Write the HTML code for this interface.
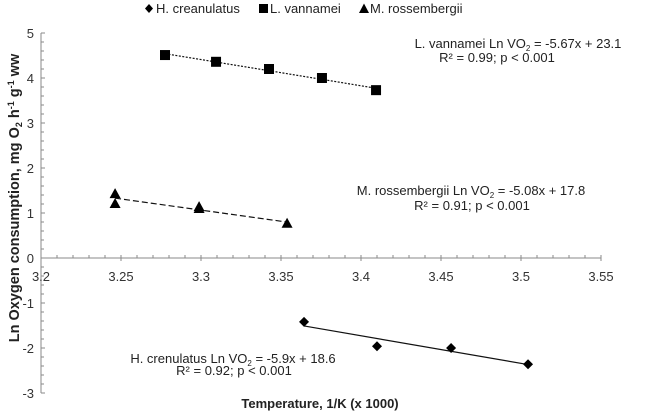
<!DOCTYPE html>
<html><head><meta charset="utf-8"><style>
html,body{margin:0;padding:0;background:#fff}
svg{display:block;font-family:"Liberation Sans",Arial,sans-serif}
</style></head><body>
<svg id="chart" width="646" height="414" viewBox="0 0 646 414" xmlns="http://www.w3.org/2000/svg">
<g id="axes"></g>
<g id="series"></g>
<g font-size="13" fill="#222">
  <path d="M149,4 L153,8.5 L149,13 L145,8.5Z" fill="#000"/>
  <text x="156" y="13">H. creanulatus</text>
  <rect x="259" y="4" width="9" height="9" fill="#000"/>
  <text x="270" y="13">L. vannamei</text>
  <path d="M364,3.5 L369,13 L359,13Z" fill="#000"/>
  <text x="370" y="13">M. rossembergii</text>
</g>
<g font-size="13" fill="#222" text-anchor="middle">
  <text x="518" y="48">L. vannamei  Ln VO<tspan font-size="8" dy="3">2</tspan><tspan dy="-3"> = -5.67x + 23.1</tspan></text>
  <text x="497" y="62">R² = 0.99; p &lt; 0.001</text>
  <text x="471" y="195">M. rossembergii Ln  VO<tspan font-size="8" dy="3">2</tspan><tspan dy="-3"> = -5.08x + 17.8</tspan></text>
  <text x="472" y="210">R² = 0.91; p &lt; 0.001</text>
  <text x="233" y="363">H. crenulatus  Ln VO<tspan font-size="8" dy="3">2</tspan><tspan dy="-3"> = -5.9x + 18.6</tspan></text>
  <text x="234" y="375">R² = 0.92; p &lt; 0.001</text>
</g>
<text x="320" y="408" font-size="13" font-weight="bold" fill="#222" text-anchor="middle">Temperature, 1/K (x 1000)</text>
<text transform="translate(19,198) rotate(-90)" font-size="14.5" font-weight="bold" fill="#222" text-anchor="middle">Ln Oxygen consumption, mg O<tspan font-size="9" dy="3">2</tspan><tspan dy="-3"> h</tspan><tspan font-size="9" dy="-5">-1</tspan><tspan dy="5"> g</tspan><tspan font-size="9" dy="-5">-1</tspan><tspan dy="5"> ww</tspan></text>
</svg>
<script>
const xTicks = [3.2, 3.25, 3.3, 3.35, 3.4, 3.45, 3.5, 3.55];
const xTickLabels = ["3.2", "3.25", "3.3", "3.35", "3.4", "3.45", "3.5", "3.55"];
const yTicks = [-3, -2, -1, 0, 1, 2, 3, 4, 5];
const yTickLabels = ["-3", "-2", "-1", "0", "1", "2", "3", "4", "5"];
const hcX = [3.3644, 3.4100, 3.4563, 3.5044];
const hcY = [-1.42, -1.96, -2.00, -2.36];
const lvX = [3.2775, 3.3094, 3.3425, 3.3756, 3.4094];
const lvY = [4.51, 4.36, 4.20, 4.00, 3.73];
const mrX = [3.2463, 3.2463, 3.2988, 3.2988, 3.3538];
const mrY = [1.42, 1.20, 1.13, 1.09, 0.76];

const NS = "http://www.w3.org/2000/svg";
const X0 = 41, XPX = 1600, Y0 = 258, YPX = 45;
function sx(v){ return X0 + (v - 3.2) * XPX; }
function sy(v){ return Y0 - v * YPX; }
function mk(tag, attrs, parent){
  const e = document.createElementNS(NS, tag);
  for (const k in attrs) e.setAttribute(k, attrs[k]);
  parent.appendChild(e);
  return e;
}
const axes = document.getElementById('axes');
const series = document.getElementById('series');
const AX = "#8a8a8a";

let el = mk('line', {x1: X0, y1: sy(5), x2: X0, y2: sy(-3), stroke: AX, 'stroke-width': 1}, axes);


el = mk('line', {x1: X0, y1: Y0, x2: sx(3.55), y2: Y0, stroke: AX, 'stroke-width': 1}, axes);



for (let i = 0; i <= 40; i++) {
  const v = -3 + i * 0.2;
  const major = i % 5 === 0;
  el = mk('line', {x1: X0, y1: sy(v), x2: X0 + (major ? 4 : 3), y2: sy(v), stroke: AX, 'stroke-width': 1}, axes);
  
  
}
for (let i = 0; i <= 35; i++) {
  const v = 3.2 + i * 0.01;
  const major = i % 5 === 0;
  el = mk('line', {x1: sx(v), y1: Y0 - 3, x2: sx(v), y2: Y0 + (major ? 3 : 0), stroke: AX, 'stroke-width': 1}, axes);
  
  
}
yTicks.forEach((v, i) => {
  const t = mk('text', {x: 34, y: sy(v) + 5, 'font-size': 13, fill: '#333', 'text-anchor': 'end'}, axes);
  t.textContent = yTickLabels[i];
  
  
});
xTicks.forEach((v, i) => {
  const t = mk('text', {x: sx(v), y: 281, 'font-size': 13, fill: '#333', 'text-anchor': 'middle'}, axes);
  t.textContent = xTickLabels[i];
  
  
});

function fit(xs, ys){
  const n = xs.length;
  const mx = xs.reduce((a,b)=>a+b,0)/n, my = ys.reduce((a,b)=>a+b,0)/n;
  let sxy = 0, sxx = 0;
  for (let i = 0; i < n; i++){ sxy += (xs[i]-mx)*(ys[i]-my); sxx += (xs[i]-mx)**2; }
  const b = sxy / sxx;
  return {b: b, a: my - b * mx};
}
function trend(xs, ys, dash, name){
  const f = fit(xs, ys);
  const lo = Math.min(...xs), hi = Math.max(...xs);
  const l = mk('line', {x1: sx(lo), y1: sy(f.a + f.b*lo), x2: sx(hi), y2: sy(f.a + f.b*hi), stroke: '#111', 'stroke-width': 1.2}, series);
  if (dash) l.setAttribute('stroke-dasharray', dash);
  
  
}
trend(hcX, hcY, null, 'h-creanulatus-trendline');
trend(lvX, lvY, '2,1.5', 'l-vannamei-trendline');
trend(mrX, mrY, '6,3', 'm-rossembergii-trendline');

hcX.forEach((x, i) => {
  const cx = sx(x), cy = sy(hcY[i]);
  const p = mk('path', {d: `M${cx},${cy-5} L${cx+5},${cy} L${cx},${cy+5} L${cx-5},${cy}Z`, fill: '#000'}, series);
  
  
});
lvX.forEach((x, i) => {
  const cx = sx(x), cy = sy(lvY[i]);
  const p = mk('rect', {x: cx-5, y: cy-5, width: 10, height: 10, fill: '#000'}, series);
  
  
});
mrX.forEach((x, i) => {
  const cx = sx(x), cy = sy(mrY[i]);
  const p = mk('path', {d: `M${cx},${cy-6} L${cx+5.5},${cy+4} L${cx-5.5},${cy+4}Z`, fill: '#000'}, series);
  
  
});
</script>
</body></html>
